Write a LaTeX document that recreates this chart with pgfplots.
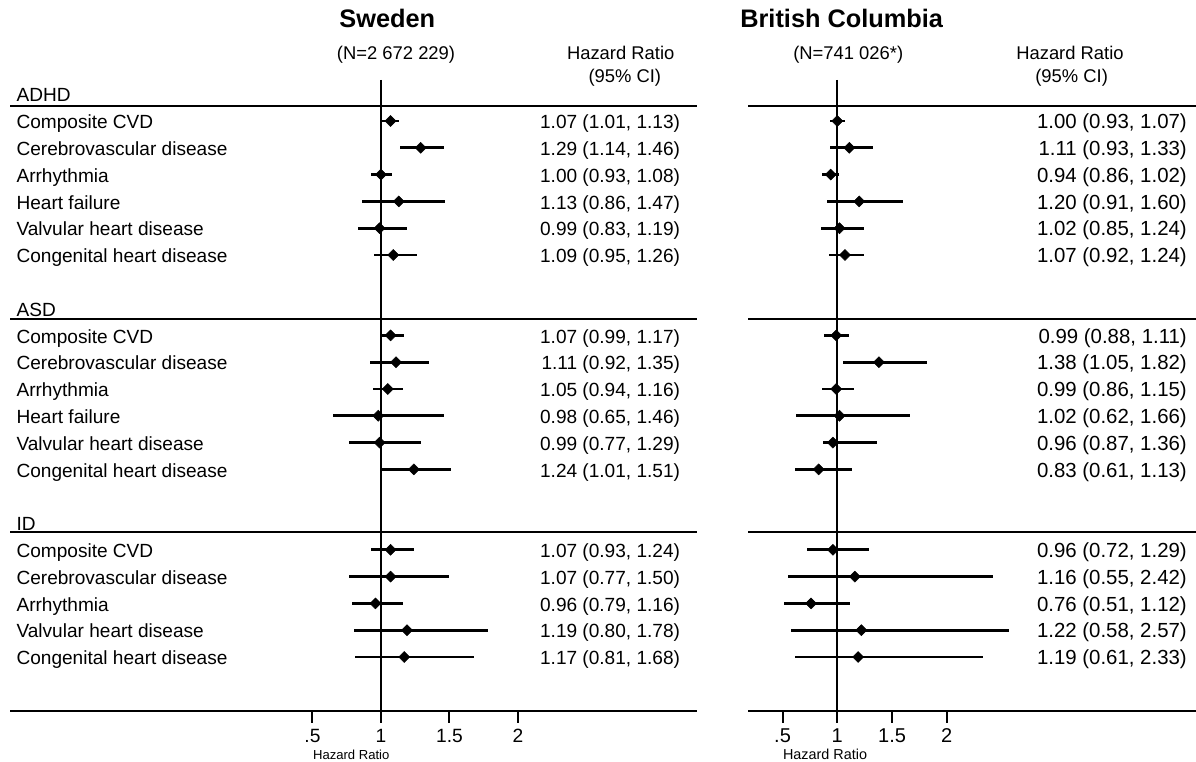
\documentclass[border=0pt]{standalone}
\usepackage{fontspec}
\setmainfont{Liberation Sans}
\usepackage{pgfplots}
\usepackage{pgfplotstable}
\pgfplotsset{compat=1.18}

\pgfplotstableread{
row hr lo hi
1 1.07 1.01 1.13
2 1.29 1.14 1.46
3 1.00 0.93 1.08
4 1.13 0.86 1.47
5 0.99 0.83 1.19
6 1.09 0.95 1.26
9 1.07 0.99 1.17
10 1.11 0.92 1.35
11 1.05 0.94 1.16
12 0.98 0.65 1.46
13 0.99 0.77 1.29
14 1.24 1.01 1.51
17 1.07 0.93 1.24
18 1.07 0.77 1.50
19 0.96 0.79 1.16
20 1.19 0.80 1.78
21 1.17 0.81 1.68
}\swe

\pgfplotstableread{
row hr lo hi
1 1.00 0.93 1.07
2 1.11 0.93 1.33
3 0.94 0.86 1.02
4 1.20 0.91 1.60
5 1.02 0.85 1.24
6 1.07 0.92 1.24
9 0.99 0.88 1.11
10 1.38 1.05 1.82
11 0.99 0.86 1.15
12 1.02 0.62 1.66
13 0.96 0.87 1.36
14 0.83 0.61 1.13
17 0.96 0.72 1.29
18 1.16 0.55 2.42
19 0.76 0.51 1.12
20 1.22 0.58 2.57
21 1.19 0.61 2.33
}\bc

\begin{document}
\begin{tikzpicture}
\useasboundingbox (0pt,0pt) rectangle (897pt,-571.5pt);
\pgfplotsset{
  forest/.style={
    scale only axis, anchor=south west, clip=false,
    height=532.65pt, ymin=-23, ymax=3.5,
    axis x line=bottom, axis y line=none,
    axis line style={-, line width=1.5pt, black},
    xtick={0.5,1,1.5,2}, xticklabels={.5,1,1.5,2},
    tick align=outside, major tick length=9pt,
    tick style={line width=1.5pt, black},
    xticklabel style={anchor=north, inner sep=0pt, text height=0.72em, text depth=0pt},
    xticklabel shift=7.6pt,
    /pgf/number format/assume math mode=true,
  },
  fp/.style={black, only marks, mark=square*, mark size=2.9pt, mark options={rotate=45, fill=black},
    error bars/.cd, x dir=both, x explicit, error mark=none,
    error bar style={line width=2pt, black}},
  rl/.style={black, line width=1.5pt, no marks},
}
\tikzset{
  txt/.style={inner sep=0pt, text height=0.72em, text depth=0pt, yshift=-2.2pt},
  lab/.style={txt, anchor=west, font=\fontsize{14.3}{17}\selectfont},
  cil/.style={txt, anchor=east, font=\fontsize{14.3}{17}\selectfont},
  cir/.style={txt, anchor=east, font=\fontsize{15.3}{18}\selectfont},
  hd/.style={txt, anchor=center, font=\fontsize{13.8}{16}\selectfont},
  ttl/.style={txt, anchor=center, font=\bfseries\fontsize{19}{22}\selectfont},
}

% ---------------- Sweden ----------------
\begin{axis}[forest, at={(7.5pt,-532.95pt)}, width=515.25pt, xmin=-1.708, xmax=3.307,
  xticklabel style={font=\fontsize{14.4}{17}\selectfont}]
\addplot[rl] coordinates {(1,0.53) (1,-23)};
\addplot[rl] coordinates {(-1.708,-0.43) (3.307,-0.43)};
\addplot[rl] coordinates {(-1.708,-8.37) (3.307,-8.37)};
\addplot[rl] coordinates {(-1.708,-16.34) (3.307,-16.34)};
\addplot[fp] table[x=hr, y expr=-\thisrow{row},
  x error plus expr=\thisrow{hi}-\thisrow{hr},
  x error minus expr=\thisrow{hr}-\thisrow{lo}] {\swe};

\node[ttl] at (axis cs:1.046,2.77) {Sweden};
\node[hd] at (axis cs:1.11,1.575) {(N=2 672 229)};
\node[hd] at (axis cs:2.75,1.575) {Hazard Ratio};
\node[hd] at (axis cs:2.78,0.716) {(95\% CI)};

\node[lab] at (axis cs:-1.662,0) {ADHD};
\node[lab] at (axis cs:-1.662,-1) {Composite CVD};
\node[lab] at (axis cs:-1.662,-2) {Cerebrovascular disease};
\node[lab] at (axis cs:-1.662,-3) {Arrhythmia};
\node[lab] at (axis cs:-1.662,-4) {Heart failure};
\node[lab] at (axis cs:-1.662,-5) {Valvular heart disease};
\node[lab] at (axis cs:-1.662,-6) {Congenital heart disease};
\node[lab] at (axis cs:-1.662,-8) {ASD};
\node[lab] at (axis cs:-1.662,-9) {Composite CVD};
\node[lab] at (axis cs:-1.662,-10) {Cerebrovascular disease};
\node[lab] at (axis cs:-1.662,-11) {Arrhythmia};
\node[lab] at (axis cs:-1.662,-12) {Heart failure};
\node[lab] at (axis cs:-1.662,-13) {Valvular heart disease};
\node[lab] at (axis cs:-1.662,-14) {Congenital heart disease};
\node[lab] at (axis cs:-1.662,-16) {ID};
\node[lab] at (axis cs:-1.662,-17) {Composite CVD};
\node[lab] at (axis cs:-1.662,-18) {Cerebrovascular disease};
\node[lab] at (axis cs:-1.662,-19) {Arrhythmia};
\node[lab] at (axis cs:-1.662,-20) {Valvular heart disease};
\node[lab] at (axis cs:-1.662,-21) {Congenital heart disease};

\node[cil] at (axis cs:3.185,-1) {1.07 (1.01, 1.13)};
\node[cil] at (axis cs:3.185,-2) {1.29 (1.14, 1.46)};
\node[cil] at (axis cs:3.185,-3) {1.00 (0.93, 1.08)};
\node[cil] at (axis cs:3.185,-4) {1.13 (0.86, 1.47)};
\node[cil] at (axis cs:3.185,-5) {0.99 (0.83, 1.19)};
\node[cil] at (axis cs:3.185,-6) {1.09 (0.95, 1.26)};
\node[cil] at (axis cs:3.185,-9) {1.07 (0.99, 1.17)};
\node[cil] at (axis cs:3.185,-10) {1.11 (0.92, 1.35)};
\node[cil] at (axis cs:3.185,-11) {1.05 (0.94, 1.16)};
\node[cil] at (axis cs:3.185,-12) {0.98 (0.65, 1.46)};
\node[cil] at (axis cs:3.185,-13) {0.99 (0.77, 1.29)};
\node[cil] at (axis cs:3.185,-14) {1.24 (1.01, 1.51)};
\node[cil] at (axis cs:3.185,-17) {1.07 (0.93, 1.24)};
\node[cil] at (axis cs:3.185,-18) {1.07 (0.77, 1.50)};
\node[cil] at (axis cs:3.185,-19) {0.96 (0.79, 1.16)};
\node[cil] at (axis cs:3.185,-20) {1.19 (0.80, 1.78)};
\node[cil] at (axis cs:3.185,-21) {1.17 (0.81, 1.68)};

\node[anchor=center, inner sep=0pt, text height=0.72em, text depth=0pt, font=\fontsize{9.8}{11}\selectfont] at (axis cs:0.783,-24.63) {Hazard Ratio};
\end{axis}

% ---------------- British Columbia ----------------
\begin{axis}[forest, at={(561pt,-532.95pt)}, width=336pt, xmin=0.1845, xmax=4.276,
  xticklabel style={font=\fontsize{15}{18}\selectfont}]
\addplot[rl] coordinates {(1,0.53) (1,-23)};
\addplot[rl] coordinates {(0.1845,-0.43) (4.276,-0.43)};
\addplot[rl] coordinates {(0.1845,-8.37) (4.276,-8.37)};
\addplot[rl] coordinates {(0.1845,-16.34) (4.276,-16.34)};
\addplot[fp] table[x=hr, y expr=-\thisrow{row},
  x error plus expr=\thisrow{hi}-\thisrow{hr},
  x error minus expr=\thisrow{hr}-\thisrow{lo}] {\bc};

\node[ttl] at (axis cs:1.04,2.77) {British Columbia};
\node[hd] at (axis cs:1.1,1.575) {(N=741 026*)};
\node[hd] at (axis cs:3.125,1.575) {Hazard Ratio};
\node[hd] at (axis cs:3.14,0.716) {(95\% CI)};

\node[cir] at (axis cs:4.194,-1) {1.00 (0.93, 1.07)};
\node[cir] at (axis cs:4.194,-2) {1.11 (0.93, 1.33)};
\node[cir] at (axis cs:4.194,-3) {0.94 (0.86, 1.02)};
\node[cir] at (axis cs:4.194,-4) {1.20 (0.91, 1.60)};
\node[cir] at (axis cs:4.194,-5) {1.02 (0.85, 1.24)};
\node[cir] at (axis cs:4.194,-6) {1.07 (0.92, 1.24)};
\node[cir] at (axis cs:4.194,-9) {0.99 (0.88, 1.11)};
\node[cir] at (axis cs:4.194,-10) {1.38 (1.05, 1.82)};
\node[cir] at (axis cs:4.194,-11) {0.99 (0.86, 1.15)};
\node[cir] at (axis cs:4.194,-12) {1.02 (0.62, 1.66)};
\node[cir] at (axis cs:4.194,-13) {0.96 (0.87, 1.36)};
\node[cir] at (axis cs:4.194,-14) {0.83 (0.61, 1.13)};
\node[cir] at (axis cs:4.194,-17) {0.96 (0.72, 1.29)};
\node[cir] at (axis cs:4.194,-18) {1.16 (0.55, 2.42)};
\node[cir] at (axis cs:4.194,-19) {0.76 (0.51, 1.12)};
\node[cir] at (axis cs:4.194,-20) {1.22 (0.58, 2.57)};
\node[cir] at (axis cs:4.194,-21) {1.19 (0.61, 2.33)};

\node[anchor=center, inner sep=0pt, text height=0.72em, text depth=0pt, font=\fontsize{10.8}{12}\selectfont] at (axis cs:0.888,-24.63) {Hazard Ratio};
\end{axis}
\end{tikzpicture}
\end{document}
